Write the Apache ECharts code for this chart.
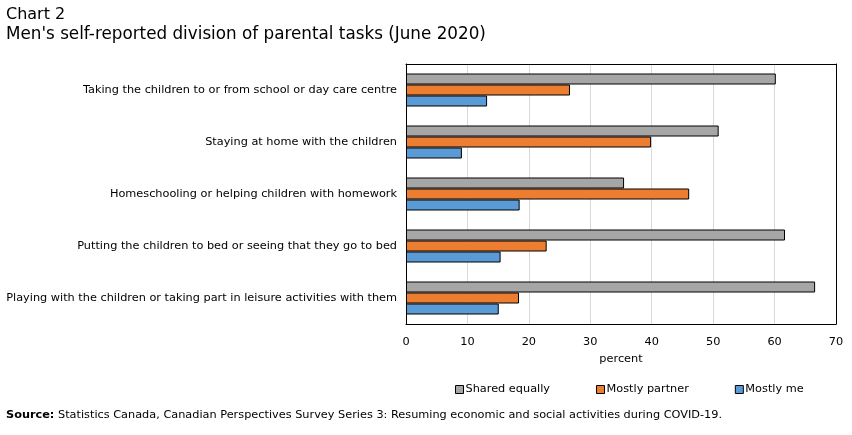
<!DOCTYPE html>
<html>
<head>
<meta charset="utf-8">
<script src="https://cdn.jsdelivr.net/npm/echarts@6/dist/echarts.min.js"></script>
<style>
  html, body { margin: 0; padding: 0; background: #fff; }
  #chart { width: 852px; height: 435px; }
</style>
</head>
<body>
<div id="chart"></div>
<script>
// categories, top to bottom
var tasks = [
  'Taking the children to or from school or day care centre',
  'Staying at home with the children',
  'Homeschooling or helping children with homework',
  'Putting the children to bed or seeing that they go to bed',
  'Playing with the children or taking part in leisure activities with them'
];
var sharedEqually = [60.2, 50.9, 35.5, 61.7, 66.6];
var mostlyPartner = [26.7, 39.9, 46.1, 22.9, 18.4];
var mostlyMe = [13.2, 9.1, 18.5, 15.4, 15.1];
var xTicks = [0, 10, 20, 30, 40, 50, 60, 70];

var font = 'DejaVu Sans, Verdana, sans-serif';
var chart = echarts.init(document.getElementById('chart'));

function barSeries(name, data, color) {
  return {
    name: name,
    type: 'bar',
    data: data,
    barWidth: 11,
    barGap: '0%',
    itemStyle: { color: color, borderColor: '#000', borderWidth: 1 }
  };
}

var frameLine = { show: true, onZero: false, lineStyle: { color: '#000', width: 1 } };

chart.setOption({
  animation: false,
  textStyle: { fontFamily: font },
  title: [
    {
      text: 'Chart 2',
      left: 6, top: 7, padding: 0,
      textStyle: { fontSize: 16, fontWeight: 'normal', color: '#000', fontFamily: font }
    },
    {
      text: "Men's self-reported division of parental tasks (June 2020)",
      left: 6, top: 26, padding: 0,
      textStyle: { fontSize: 16.8, fontWeight: 'normal', color: '#000', fontFamily: font }
    },
    {
      text: '{b|Source:} Statistics Canada, Canadian Perspectives Survey Series 3: Resuming economic and social activities during COVID-19.',
      left: 6, top: 410, padding: 0,
      textStyle: {
        fontSize: 11.3, fontWeight: 'normal', color: '#000', fontFamily: font,
        rich: { b: { fontWeight: 'bold', fontSize: 11.3, fontFamily: font } }
      }
    }
  ],
  legend: {
    left: 450, top: 379,
    icon: 'rect',
    itemWidth: 8, itemHeight: 8,
    itemGap: 46,
    textStyle: { fontSize: 11.3, color: '#000', fontFamily: font, padding: [0, 0, 0, -3] },
    itemStyle: { borderColor: '#000', borderWidth: 1 },
    data: ['Shared equally', 'Mostly partner', 'Mostly me']
  },
  grid: {
    left: 406, top: 64, width: 430, height: 260
  },
  xAxis: [
    {
      type: 'value',
      min: xTicks[0], max: xTicks[xTicks.length - 1], interval: 10,
      name: 'percent',
      nameLocation: 'middle', nameGap: 30,
      nameTextStyle: { fontSize: 11.3, color: '#000' },
      axisLine: frameLine,
      axisTick: { show: false },
      axisLabel: { fontSize: 11.3, color: '#000', margin: 13 },
      splitLine: { show: true, lineStyle: { color: '#d9d9d9', width: 1 } }
    },
    {
      type: 'value', position: 'top',
      min: xTicks[0], max: xTicks[xTicks.length - 1], interval: 10,
      axisLine: frameLine,
      axisTick: { show: false },
      axisLabel: { show: false },
      splitLine: { show: false }
    }
  ],
  yAxis: [
    {
      type: 'category',
      data: tasks,
      inverse: true,
      axisLine: frameLine,
      axisTick: { show: false },
      axisLabel: { fontSize: 11.3, color: '#000', margin: 9 }
    },
    {
      type: 'category', position: 'right',
      data: tasks,
      inverse: true,
      axisLine: frameLine,
      axisTick: { show: false },
      axisLabel: { show: false }
    }
  ],
  series: [
    barSeries('Shared equally', sharedEqually, '#a6a6a6'),
    barSeries('Mostly partner', mostlyPartner, '#ed7d31'),
    barSeries('Mostly me', mostlyMe, '#5b9bd5')
  ]
});
</script>
</body>
</html>
